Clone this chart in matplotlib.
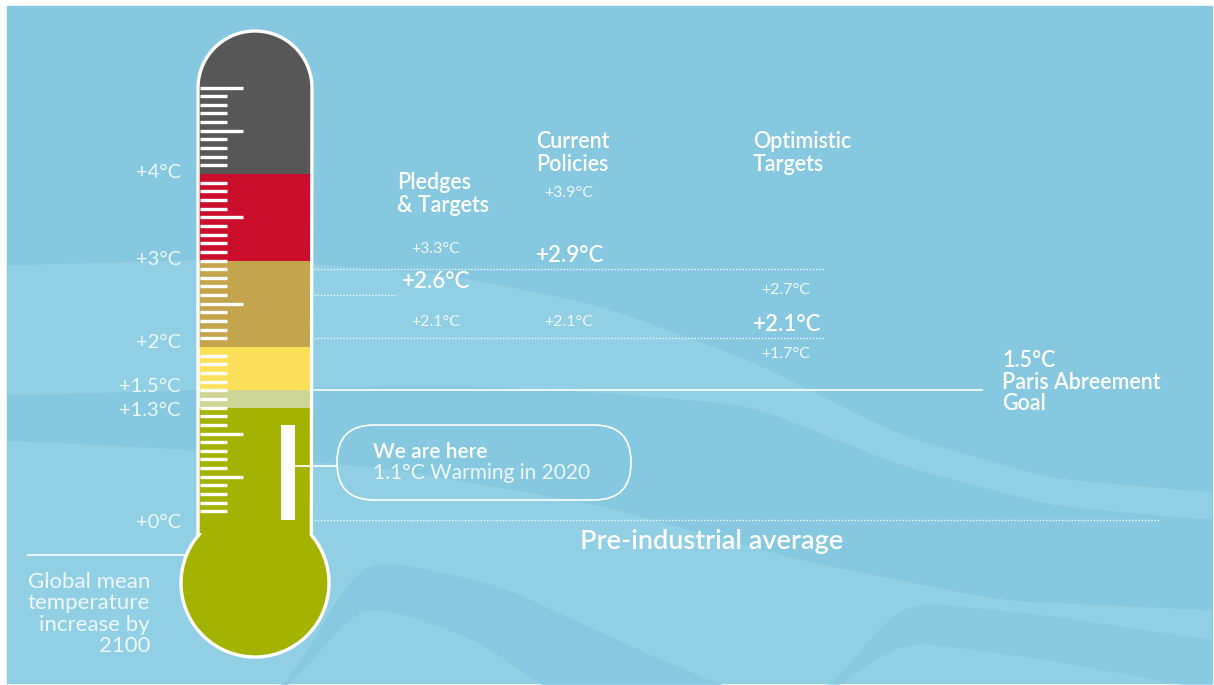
import numpy as np
import matplotlib
matplotlib.use("Agg")
import matplotlib.pyplot as plt
from matplotlib.path import Path
from matplotlib.patches import PathPatch, Rectangle, Circle, FancyBboxPatch

plt.rcParams['font.family'] = ['Lato', 'DejaVu Sans']

# ---- data ----
band_edges = [-0.25, 1.3, 1.5, 2.0, 3.0, 4.0]
band_colors = ['#a3b300', '#cfd596', '#fde05a', '#c4a44c', '#cc0e2d']
scale_labels = [4, 3, 2, 1.5, 1.3, 0]
long_ticks = [0.5, 1.0, 2.5, 3.5, 4.5, 5.0]
skip_ticks = [2.0, 4.0]

scenarios = ['Pledges\n& Targets', 'Current\nPolicies', 'Optimistic\nTargets']
central = [2.6, 2.9, 2.1]
high = [3.3, 3.9, 2.7]
low = [2.1, 2.1, 1.7]

current_warming = 1.1
paris_goal = 1.5
pre_industrial = 0.0

# ---- layout (pixels) ----
W, H = 1214, 685
zero_px, px_per_deg = 520, 86.5
col_x = [397, 536, 753]
line_end = [397, 825, 825]
high_y = [249, 193, 290]
low_y = [322, 322, 354]
title_y = [194, 153, 153]
label_nudge = {4: 1, 3: 1, 2: 3, 1.5: 3, 1.3: -2, 0: -2}   # points, keeps 1.5/1.3 apart

bg = '#86c8e0'
light = '#9ad5e8'
txt = 'white'
soft = '#eef8fb'

fig = plt.figure(figsize=(W / 100, H / 100), dpi=100)
fig.patch.set_facecolor('white')
ax = fig.add_axes([0, 0, 1, 1])
ax.set_xlim(0, W)
ax.set_ylim(H, 0)
ax.axis('off')

# temperature axes on top, same x pixels
ax_t = fig.add_axes([0, 0, 1, 1])
ax_t.set_xlim(0, W)
ax_t.set_ylim((zero_px - H) / px_per_deg, zero_px / px_per_deg)
ax_t.axis('off')
ax_t.patch.set_visible(False)
px = ax.transData

# background + soft waves
ax.add_patch(Rectangle((7, 6), 1205, 677, color=bg, zorder=0))
xs = np.linspace(7, 1212, 400)
k = np.exp(-np.linspace(-2, 2, 41) ** 2)
k /= k.sum()
def edge(pts):
    p = np.array(pts, float)
    y = np.interp(xs, p[:, 0], p[:, 1])
    yp = np.pad(y, 20, mode='edge')
    return np.convolve(yp, k, mode='valid')

bot = np.full_like(xs, 683.0)
ax.fill_between(xs, edge([(7, 265), (250, 258), (450, 275), (600, 305), (750, 360), (900, 435), (1050, 478), (1212, 492)]),
                edge([(7, 395), (250, 388), (450, 385), (600, 392), (750, 405), (900, 465), (1050, 505), (1212, 520)]),
                color=light, alpha=0.55, lw=0, zorder=1)
ax.fill_between(xs, edge([(7, 440), (200, 450), (400, 470), (600, 505), (800, 560), (1000, 600), (1212, 610)]),
                bot, color=light, alpha=0.6, lw=0, zorder=1)
ax.fill_between(xs, edge([(7, 700), (280, 700), (360, 555), (500, 585), (650, 655), (760, 700), (1212, 700)]),
                edge([(7, 700), (280, 700), (360, 600), (480, 640), (560, 700), (1212, 700)]),
                color=bg, alpha=0.75, lw=0, zorder=1)
ax.fill_between(xs, edge([(7, 700), (820, 700), (900, 600), (1050, 615), (1212, 640)]),
                edge([(7, 700), (820, 700), (900, 640), (1050, 660), (1212, 690)]),
                color=bg, alpha=0.6, lw=0, zorder=1)

# thermometer outline path (pixels)
cx, r_cap, cap_y = 255, 57, 88
bulb_y, r_bulb = 583, 74
a = np.linspace(np.pi, 0, 60)
cap = np.column_stack([cx + r_cap * np.cos(a), cap_y - r_cap * np.sin(a)])
t0 = np.arcsin((bulb_y - 535) / r_bulb)
b = np.linspace(t0, -np.pi - t0, 120)
bulb = np.column_stack([cx + r_bulb * np.cos(b), bulb_y - r_bulb * np.sin(b)])
verts = np.vstack([[[cx - r_cap, 535]], cap, bulb])
outline = Path(np.vstack([verts, verts[:1]]), closed=True)

ax_t.add_patch(PathPatch(outline, facecolor='#575757', edgecolor='none', transform=px, zorder=2))
for lo, hi, c in zip(band_edges[:-1], band_edges[1:], band_colors):
    ax_t.add_patch(Rectangle((cx - r_cap, lo), 2 * r_cap, hi - lo, color=c, lw=0, zorder=3))
ax_t.add_patch(Circle((cx, bulb_y), r_bulb, color=band_colors[0], lw=0, transform=px, zorder=3))

# scale ticks
for t in np.round(np.arange(0.1, 5.01, 0.1), 1):
    if t in skip_ticks:
        continue
    x1 = 243 if t in long_ticks else 227
    ax_t.plot([200, x1], [t, t], color='white', lw=2.4, solid_capstyle='butt', zorder=4)

ax_t.add_patch(PathPatch(outline, facecolor='none', edgecolor='white', lw=2.4, transform=px, zorder=5))

# current warming bar
ax_t.add_patch(Rectangle((281, pre_industrial), 14, current_warming, color='white', lw=0, zorder=6))
ax_t.plot([295, 337], [466, 466], color='white', lw=1.2, transform=px, zorder=6)
ax.add_patch(FancyBboxPatch((337, 425), 294, 75, boxstyle='round,pad=0,rounding_size=37',
                            facecolor='none', edgecolor='white', lw=1.2, zorder=5))
ax.text(373, 452, 'We are here', color=txt, fontsize=15, fontweight='semibold', va='center', zorder=6)
ax.text(373, 473, f'{current_warming}°C Warming in 2020', color=soft, fontsize=15,
        va='center', zorder=6)

# scale labels
for t in scale_labels:
    ax_t.annotate(f'+{t:g}°C', xy=(181, t), xytext=(0, label_nudge[t]), textcoords='offset points',
                  ha='right', va='center', color=soft, fontsize=14.5)

# scenario reference lines
dots = (0, (1, 1.3))
for c, xe in zip(central, line_end):
    ax_t.plot([314, xe], [c, c], color='white', lw=1, ls=dots, alpha=0.9, zorder=2)
ax_t.plot([314, 1160], [pre_industrial] * 2, color='white', lw=1, ls=dots, alpha=0.9, zorder=2)
ax_t.plot([314, 982], [paris_goal] * 2, color='white', lw=1.2, zorder=2)

for i, name in enumerate(scenarios):
    ax.text(col_x[i], title_y[i], name, color=txt, fontsize=15.5, fontweight='semibold',
            va='center', linespacing=1.1)
    ax_t.annotate(f'+{central[i]}°C', xy=(col_x[i] + (5 if i == 0 else 0), central[i]),
                  xytext=(0, 10), textcoords='offset points', va='center',
                  color=txt, fontsize=16, fontweight='semibold')
    ax.text(col_x[i] + (14 if i == 0 else 8), high_y[i], f'+{high[i]}°C', color=soft,
            fontsize=11.5, va='center')
    ax.text(col_x[i] + (14 if i == 0 else 8), low_y[i], f'+{low[i]}°C', color=soft,
            fontsize=11.5, va='center')

ax.text(1002, 382, f'{paris_goal}°C\nParis Abreement\nGoal', color=txt, fontsize=15.5,
        fontweight='semibold', va='center', linespacing=1.05)
ax.text(580, 542, 'Pre-industrial average', color=txt, fontsize=19.5, fontweight='semibold', va='center')

ax.plot([28, 186], [555, 555], color='white', lw=1.2, zorder=2)
ax.text(150, 614, 'Global mean\ntemperature\nincrease by\n2100', color=soft, fontsize=16,
        ha='right', va='center', multialignment='right', linespacing=1.1)

fig.savefig('out.png', dpi=100)
